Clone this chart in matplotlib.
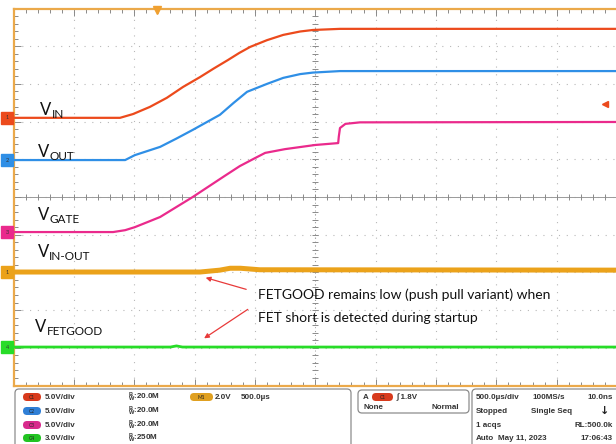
import numpy as np
import matplotlib.pyplot as plt
from matplotlib.patches import FancyBboxPatch

plt.rcParams['font.family'] = ['Lato', 'DejaVu Sans']

# -------------------------------
# TRACE DATA (screen divisions: time 0..10, level 0..10)
# -------------------------------
t_vin = [0, 1.765, 1.98, 2.26, 2.54, 2.81, 3.09, 3.32, 3.55, 3.74, 3.92, 4.20, 4.47, 4.75, 4.96, 5.41, 10]
v_vin = [7.10, 7.10, 7.20, 7.39, 7.63, 7.92, 8.18, 8.41, 8.63, 8.82, 8.98, 9.16, 9.30, 9.39, 9.43, 9.46, 9.46]

t_vout = [0, 1.85, 2.01, 2.43, 2.70, 2.97, 3.42, 3.65, 3.87, 4.20, 4.47, 4.75, 4.96, 5.41, 10]
v_vout = [5.98, 5.98, 6.11, 6.33, 6.55, 6.78, 7.18, 7.50, 7.79, 8.00, 8.16, 8.26, 8.30, 8.34, 8.34]

t_gate = [0, 1.65, 1.85, 2.01, 2.26, 2.43, 2.97, 3.50, 3.75, 4.00, 4.17, 4.50, 5.00, 5.38, 5.39, 5.41, 5.50, 5.74, 10]
v_gate = [4.07, 4.07, 4.12, 4.20, 4.36, 4.47, 5.00, 5.56, 5.82, 6.03, 6.17, 6.27, 6.38, 6.43, 6.60, 6.83, 6.94, 6.98, 6.99]

t_inout = [0, 3.09, 3.42, 3.59, 3.76, 4.08, 10]
v_inout = [3.01, 3.01, 3.06, 3.11, 3.11, 3.07, 3.06]

t_fg = [0, 2.60, 2.70, 2.80, 10]
v_fg = [1.02, 1.02, 1.05, 1.02, 1.02]

labels = ['IN', 'OUT', 'GATE', 'IN-OUT', 'FETGOOD']
gnd_levels = [7.10, 5.98, 4.07, 3.01, 1.02]
gnd_tags = ['1', '2', '3', '1', '4']
colors = ['#ec4a1c', '#2f8fe6', '#ea2a8c', '#eba21a', '#27dc27']

trig_pos = 2.38
c1_scale = 5.0
trig_level = 1.8

# -------------------------------
# FIGURE
# -------------------------------
fig = plt.figure(figsize=(6.16, 4.44), dpi=100)

# status panel (pixel coords)
sp = fig.add_axes([0, 0, 1, 1])
sp.set_xlim(0, 616)
sp.set_ylim(444, 0)
sp.axis('off')

ax = fig.add_axes([13.5 / 616, (444 - 385.5) / 444, 603.5 / 616, 377 / 444])
ax.set_xlim(0, 10)
ax.set_ylim(0, 10)
ax.set_facecolor('white')

# graticule
for k in range(1, 10):
    ax.axvline(k, color='#b8b8b8', lw=0.8, ls=(0, (1, 6)), zorder=1)
    ax.axhline(k, color='#b8b8b8', lw=0.8, ls=(0, (1, 6)), zorder=1)
ax.axhline(5, color='#9a9a9a', lw=0.7, zorder=1)
ax.axvline(5, color='#9a9a9a', lw=0.7, ls=(0, (1, 3)), zorder=1)
minor = np.arange(0.2, 10, 0.2)
ax.plot(minor, np.full_like(minor, 5), ls='none', marker='|', ms=4, color='#8a8a8a', mew=0.7, zorder=1)
ax.plot(np.full_like(minor, 5), minor, ls='none', marker='_', ms=4, color='#8a8a8a', mew=0.7, zorder=1)

ax.set_xticks(range(0, 11))
ax.set_yticks(range(0, 11))
ax.set_xticks(minor, minor=True)
ax.set_yticks(minor, minor=True)
ax.tick_params(which='both', direction='in', top=True, bottom=True, left=True, right=False,
               labelbottom=False, labelleft=False, color='#8a8a8a', width=0.7)
ax.tick_params(which='major', length=5)
ax.tick_params(which='minor', length=3)
for s in ['top', 'left', 'bottom']:
    ax.spines[s].set_color('#eba94a')
    ax.spines[s].set_linewidth(1.6)
ax.spines['right'].set_visible(False)

# traces
ax.plot(t_vin, v_vin, color=colors[0], lw=1.6, zorder=3)
ax.plot(t_vout, v_vout, color=colors[1], lw=1.6, zorder=3)
ax.plot(t_gate, v_gate, color=colors[2], lw=1.6, zorder=3)
ax.plot(t_inout, v_inout, color=colors[3], lw=3.6, zorder=3)
ax.plot(t_fg, v_fg, color=colors[4], lw=2.0, zorder=3)

# channel ground markers
for lvl, tag, c in zip(gnd_levels, gnd_tags, colors):
    ax.plot([-0.1], [lvl], marker='s', ms=8, color=c, clip_on=False, zorder=5)
    ax.text(-0.1, lvl, tag, fontsize=4, ha='center', va='center', color='#333333', zorder=6, clip_on=False)

# trigger markers
ax.plot([trig_pos], [9.95], marker='v', ms=6, color='#f0a030', clip_on=False, zorder=5)
ax.plot([9.80], [gnd_levels[0] + trig_level / c1_scale], marker='<', ms=4, color='#ec4a1c', zorder=5)

# trace labels
lab_pos = [(0.44, 7.17), (0.40, 6.05), (0.40, 4.38), (0.40, 3.40), (0.36, 1.42)]
for (x, y), lab in zip(lab_pos, labels):
    vt = ax.text(x, y, 'V', fontsize=12, color='#111111', zorder=6, va='baseline')
    ax.annotate(lab, xy=(1, 0), xycoords=vt, xytext=(0.3, 0.2), textcoords='offset points',
                fontsize=8.5, color='#111111', va='baseline', ha='left', zorder=6)

# annotation
ax.text(4.05, 2.29, 'FETGOOD remains low (push pull variant) when', fontsize=10, color='#111111', zorder=6)
ax.text(4.05, 1.68, 'FET short is detected during startup', fontsize=10, color='#111111', zorder=6)
ax.annotate('', xy=(3.14, 2.88), xytext=(3.90, 2.53),
            arrowprops=dict(arrowstyle='-|>', color='#e83a3a', lw=0.9, mutation_scale=7), zorder=6)
ax.annotate('', xy=(3.12, 1.21), xytext=(3.92, 2.06),
            arrowprops=dict(arrowstyle='-|>', color='#e83a3a', lw=0.9, mutation_scale=7), zorder=6)

# -------------------------------
# STATUS PANEL
# -------------------------------
box_kw = dict(boxstyle='round,pad=0,rounding_size=4', fc='white', ec='#8c8c8c', lw=0.9)
sp.add_patch(FancyBboxPatch((15, 389), 336, 62, **box_kw))
sp.add_patch(FancyBboxPatch((358, 390), 111, 23, **box_kw))
sp.add_patch(FancyBboxPatch((472, 389), 150, 62, **box_kw))

fs = 5.8
tkw = dict(fontsize=fs, fontweight='bold', color='#333333', va='center', family='Liberation Sans')

ch_names = ['C1', 'C2', 'C3', 'C4']
ch_scale = ['5.0V/div', '5.0V/div', '5.0V/div', '3.0V/div']
ch_bw = ['20.0M', '20.0M', '20.0M', '250M']
ch_colors = ['#d83a1c', '#2f7fd6', '#d82a8c', '#22c422']
rows = [397, 411, 425, 438]
for name, sc, bw, c, y in zip(ch_names, ch_scale, ch_bw, ch_colors, rows):
    sp.add_patch(FancyBboxPatch((23, y - 4), 18, 8, boxstyle='round,pad=0,rounding_size=4', fc=c, ec='none'))
    sp.text(32, y, name, fontsize=3.5, ha='center', va='center', color='#222222')
    sp.text(45, y, sc, **tkw)
    sp.text(128, y, r'$\mathregular{^{B}_{W}}$:' + bw, **tkw)

sp.add_patch(FancyBboxPatch((190, 393), 23, 8, boxstyle='round,pad=0,rounding_size=4', fc='#e0a020', ec='none'))
sp.text(201.5, 397, 'M1', fontsize=3.5, ha='center', va='center', color='#222222')
sp.text(215, 397, '2.0V', **tkw)
sp.text(241, 397, '500.0µs', **tkw)

sp.text(363, 397, 'A', **tkw)
sp.add_patch(FancyBboxPatch((372, 393), 21, 8, boxstyle='round,pad=0,rounding_size=4', fc='#d83a1c', ec='none'))
sp.text(382.5, 397, 'C1', fontsize=3.5, ha='center', va='center', color='#222222')
sp.text(397, 397, '\u222b 1.8V', **tkw)
sp.text(363, 407, 'None', **tkw)
sp.text(459, 407, 'Normal', ha='right', **tkw)

sp.text(476, 397, '500.0µs/div', **tkw)
sp.text(532, 397, '100MS/s', **tkw)
sp.text(613, 397, '10.0ns', ha='right', **tkw)
sp.text(476, 411, 'Stopped', **tkw)
sp.text(531, 411, 'Single Seq', **tkw)
sp.text(605, 411, '\u2193', fontsize=8, fontweight='bold', color='#222222', va='center', ha='center',
        family='DejaVu Sans')
sp.text(476, 425, '1 acqs', **tkw)
sp.text(613, 425, 'RL:500.0k', ha='right', **tkw)
sp.text(476, 438, 'Auto', **tkw)
sp.text(498, 438, 'May 11, 2023', **tkw)
sp.text(613, 438, '17:06:43', ha='right', **tkw)

plt.savefig('out.png', dpi=100)
